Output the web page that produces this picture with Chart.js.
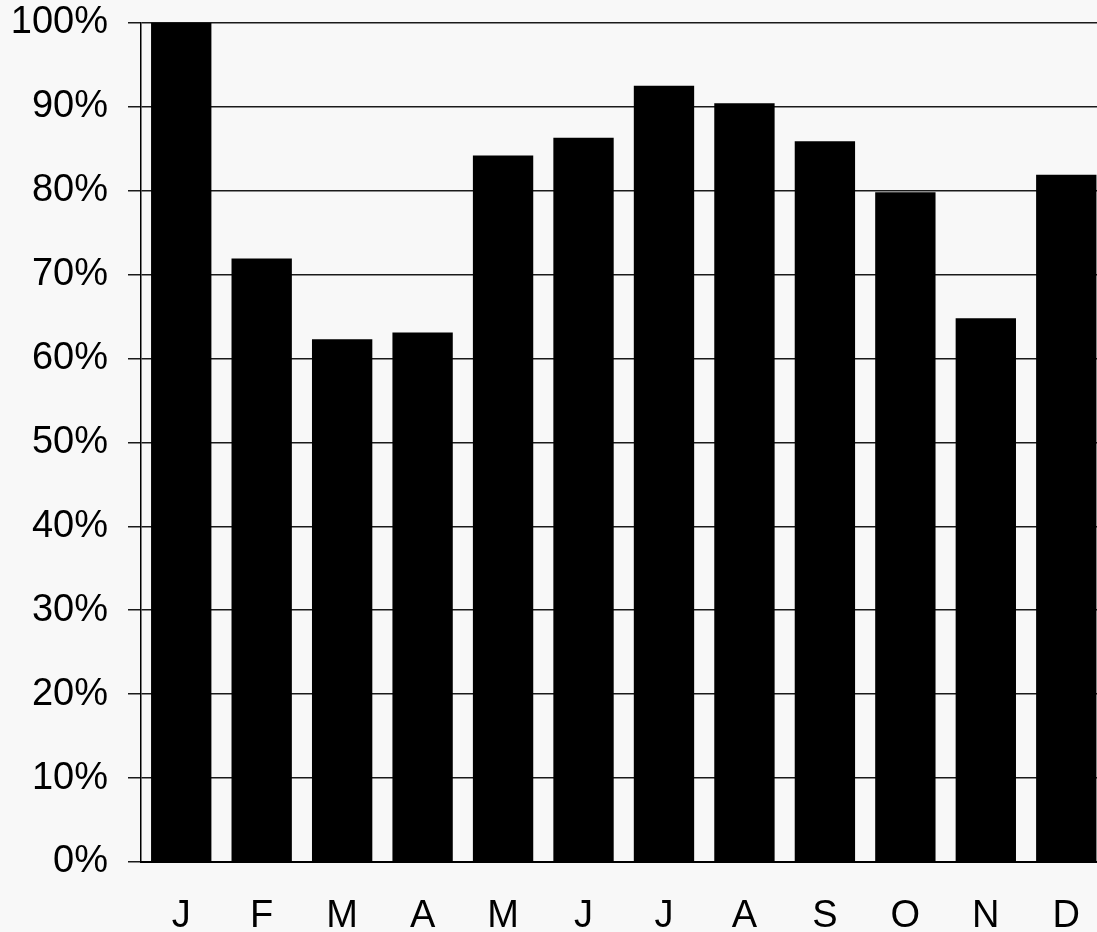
<!DOCTYPE html>
<html lang="en">
<head>
    <meta charset="UTF-8">
    <title>Monthly percentage</title>
    <script src="https://cdn.jsdelivr.net/npm/chart.js@4.4.1/dist/chart.umd.min.js"></script>
    <style>
        html, body {
            margin: 0;
            padding: 0;
            background-color: #f8f8f8;
            overflow: hidden;
        }
        .chart-box {
            position: relative;
            width: 1112px;
            height: 952px;
            margin-top: -20px;
        }
    </style>
</head>
<body>
    <div class="chart-box">
        <canvas id="monthChart"></canvas>
    </div>

    <script>
        // Values
        const months = ['J', 'F', 'M', 'A', 'M', 'J', 'J', 'A', 'S', 'O', 'N', 'D'];
        const percentValues = [100, 71.9, 62.3, 63.1, 84.2, 86.3, 92.5, 90.4, 85.9, 79.8, 64.8, 81.9];
        const yTicks = [0, 10, 20, 30, 40, 50, 60, 70, 80, 90, 100];

        const labelFont = { family: "'Liberation Sans', Arial, sans-serif", size: 38 };

        const ctx = document.getElementById('monthChart').getContext('2d');

        const monthChart = new Chart(ctx, {
            type: 'bar',
            data: {
                labels: months,
                datasets: [{
                    data: percentValues,
                    backgroundColor: '#000000',
                    borderWidth: 0,
                    categoryPercentage: 1.0,
                    barPercentage: 0.75
                }]
            },
            options: {
                responsive: true,
                maintainAspectRatio: false,
                animation: false,
                layout: {
                    padding: { top: 0, right: 0, left: 0, bottom: 0 }
                },
                plugins: {
                    legend: { display: false },
                    tooltip: { enabled: false }
                },
                scales: {
                    x: {
                        grid: { display: false, drawTicks: false },
                        border: { display: true, color: '#000', width: 2 },
                        ticks: {
                            color: '#000',
                            font: labelFont,
                            padding: 32,
                            maxRotation: 0
                        },
                        afterFit: function(scale) { scale.height = 70; }
                    },
                    y: {
                        min: 0,
                        max: 100,
                        afterBuildTicks: function(scale) {
                            scale.ticks = yTicks.map(v => ({ value: v }));
                        },
                        ticks: {
                            color: '#000',
                            font: labelFont,
                            padding: 20,
                            callback: v => v + '%'
                        },
                        grid: {
                            color: '#1a1a1a',
                            lineWidth: 1.5,
                            tickLength: 13,
                            tickColor: '#1a1a1a'
                        },
                        border: { display: true, color: '#000', width: 1.5 },
                        afterFit: function(scale) { scale.width = 141; }
                    }
                }
            }
        });
    </script>
</body>
</html>
